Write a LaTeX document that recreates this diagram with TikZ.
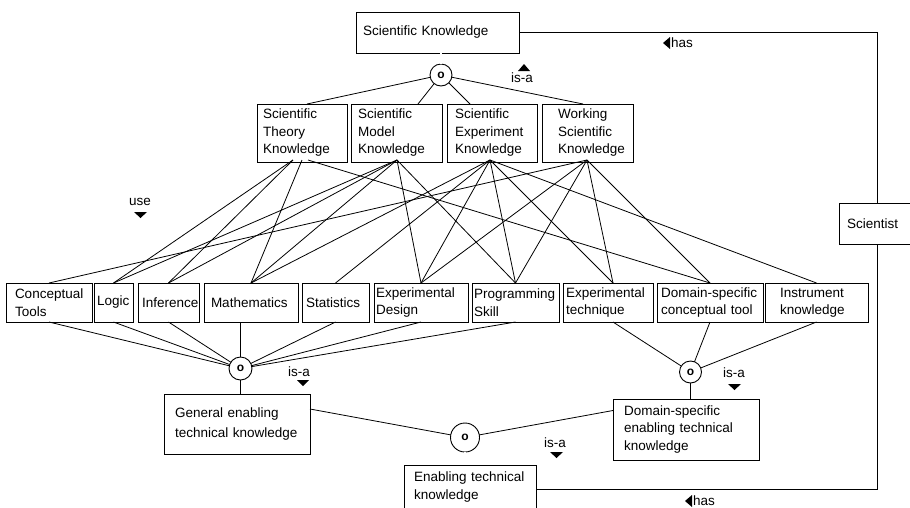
\documentclass[tikz,border=0pt]{standalone}
\usepackage{fontspec}
\setmainfont{Liberation Sans}
\begin{document}
\begin{tikzpicture}[x=1pt,y=-1pt,
  every node/.style={font=\fontsize{13.5}{17.5}\selectfont},
  box/.style={draw, line width=0.9pt, anchor=north west, inner sep=0pt, outer sep=0pt, align=left},
  joint/.style={draw, circle, line width=0.9pt, inner sep=0pt, outer sep=0pt, fill=white,
    font=\fontsize{12}{12}\selectfont\bfseries},
  link/.style={line width=0.8pt},
  dlink/.style={double, double distance=1.4pt, line width=0.7pt},
  lbl/.style={inner sep=0pt}]
\useasboundingbox (0,0) rectangle (910,507);
\fill[white] (0,0) rectangle (910,507);
\clip (0,0) rectangle (910,507);

% ---------- top concept and its four kinds ----------
\node[box, minimum width=163, minimum height=41, text width=149] (sk) at (356,12) {Scientific Knowledge};
\node[joint, minimum size=22] (c0) at (441,75) {o};

\node[box, minimum width=90, minimum height=58, text width=78] (st) at (257,104) {Scientific\\Theory\\Knowledge};
\node[box, minimum width=91, minimum height=58, text width=77] (sm) at (351,104) {Scientific\\Model\\Knowledge};
\node[box, minimum width=90, minimum height=58, text width=74] (se) at (447,104) {Scientific\\Experiment\\Knowledge};
\node[box, minimum width=91, minimum height=58, text width=59] (sw) at (542,104) {Working\\Scientific\\Knowledge};

% ---------- enabling tools ----------
\node[box, minimum width=86, minimum height=39, text width=68] (ct) at (6,283) {Conceptual\\Tools};
\node[box, minimum width=39, minimum height=39, text width=33] (lo) at (94,283) {Logic};
\node[box, minimum width=61, minimum height=39, text width=53] (inf) at (138,283) {Inference};
\node[box, minimum width=94, minimum height=39, text width=80] (ma) at (204,283) {Mathematics};
\node[box, minimum width=67, minimum height=39, text width=59] (sta) at (302,283) {Statistics};
\node[box, minimum width=94, minimum height=39, text width=90] (ed) at (374,283) {Experimental\\Design};
\node[box, minimum width=87, minimum height=39, text width=83] (ps) at (472,283) {Programming\\Skill};
\node[box, minimum width=90, minimum height=39, text width=84] (et) at (563,283) {Experimental\\technique};
\node[box, minimum width=106, minimum height=39, text width=98] (dc) at (657,283) {Domain-specific\\conceptual tool};
\node[box, minimum width=103, minimum height=39, text width=73] (ik) at (765,283) {Instrument\\knowledge};

% ---------- enabling technical knowledge ----------
\node[joint, minimum size=23] (c1) at (240.5,368.5) {o};
\node[joint, minimum size=22] (c2) at (690.5,372) {o};
\node[joint, minimum size=29] (c3) at (465,437.5) {o};

\node[box, minimum width=146, minimum height=60, text width=124,
  font=\fontsize{13.5}{20}\selectfont] (ge) at (164,394) {General enabling\\technical knowledge};
\node[box, minimum width=146, minimum height=61, text width=124] (de) at (613,399) {Domain-specific\\enabling technical\\knowledge};
\node[box, minimum width=132, minimum height=44, text width=112] (en) at (404,465) {Enabling technical\\knowledge};

\node[box, anchor=center, minimum width=76, minimum height=41, text width=60] (sc) at (877,223.5) {Scientist};

% ---------- is-a: Scientific Knowledge ----------
\draw[dlink] (c0 |- sk.south) -- (c0.north);
\draw[link] (c0) -- ([xshift=50pt]st.north west);
\draw[link] (c0) -- ([xshift=67pt]sm.north west);
\draw[link] (c0) -- ([xshift=23pt]se.north west);
\draw[link] (c0) -- ([xshift=41pt]sw.north west);

% ---------- use relations ----------
\coordinate (tA) at ([xshift=36pt,yshift=2pt]st.south west);
\coordinate (tB) at ([xshift=45pt,yshift=2pt]st.south west);
\coordinate (tC) at ([xshift=51pt,yshift=2pt]st.south west);
\coordinate (mA) at ([xshift=46pt,yshift=2pt]sm.south west);
\coordinate (eA) at ([xshift=43pt,yshift=2pt]se.south west);
\coordinate (wA) at ([xshift=45pt,yshift=2pt]sw.south west);

\draw[link] (tA) -- (lo.north);
\draw[link] (tA) -- (inf.north);
\draw[link] (tB) -- (ma.north);
\draw[link] (tC) -- (dc.north);

\draw[link] (mA) -- (lo.north);
\draw[link] (mA) -- (inf.north);
\draw[link] (mA) -- (ma.north);
\draw[link] (mA) -- (ed.north);
\draw[link] (mA) -- (ps.north);

\draw[link] (eA) -- (ma.north);
\draw[link] (eA) -- (sta.north);
\draw[link] (eA) -- (ed.north);
\draw[link] (eA) -- (ps.north);
\draw[link] (eA) -- ([xshift=5pt]et.north);
\draw[link] (eA) -- (ik.north);

\draw[link] (wA) -- (ct.north);
\draw[link] (wA) -- (ed.north);
\draw[link] (wA) -- (ps.north);
\draw[link] (wA) -- ([xshift=5pt]et.north);
\draw[link] (wA) -- (dc.north);

% ---------- is-a: general enabling technical knowledge ----------
\draw[link] (ct.south) -- (c1);
\draw[link] (lo.south) -- (c1);
\draw[link] (inf.south) -- (c1);
\draw[link] (c1 |- ma.south) -- (c1);
\draw[link] (sta.south) -- (c1);
\draw[link] (ed.south) -- (c1);
\draw[link] (ps.south) -- (c1);
\draw[link] (c1) -- (c1 |- ge.north);

% ---------- is-a: domain-specific enabling technical knowledge ----------
\draw[link] ([xshift=5pt]et.south) -- (c2);
\draw[link] (dc.south) -- (c2);
\draw[link] (ik.south) -- (c2);
\draw[link] (c2) -- (c2 |- de.north);

% ---------- is-a: enabling technical knowledge ----------
\draw[link] ([yshift=15pt]ge.east) -- (c3);
\draw[link] ([yshift=19pt]de.west) -- (c3);
\draw[dlink] (c3.south) -- (c3 |- en.north);

% ---------- has ----------
\draw[link] (sk.east) -| (sc.north);
\draw[link] ([yshift=-24pt]en.north east) -| (sc.south);

% ---------- relation labels ----------
\node[lbl] (isa0) at (522,78) {is-a};
\fill (518,71) -- (530,71) -- (524,64) -- cycle;
\node[lbl] (isa1) at (299,372) {is-a};
\fill (297,380) -- (309,380) -- (303,386) -- cycle;
\node[lbl] (isa2) at (734,373) {is-a};
\fill (728,384) -- (741,384) -- (734.5,390) -- cycle;
\node[lbl] (isa3) at (555,443) {is-a};
\fill (550,452) -- (563,452) -- (556.5,458) -- cycle;
\node[lbl] (use) at (140,202) {use};
\fill (134,212) -- (147,212) -- (140.5,218) -- cycle;
\node[lbl, anchor=west] (has0) at (671,43) {has};
\fill (670,37) -- (670,49) -- (663,43) -- cycle;
\node[lbl, anchor=west] (has1) at (693,501) {has};
\fill (692,495) -- (692,507) -- (685,501) -- cycle;
\end{tikzpicture}
\end{document}
